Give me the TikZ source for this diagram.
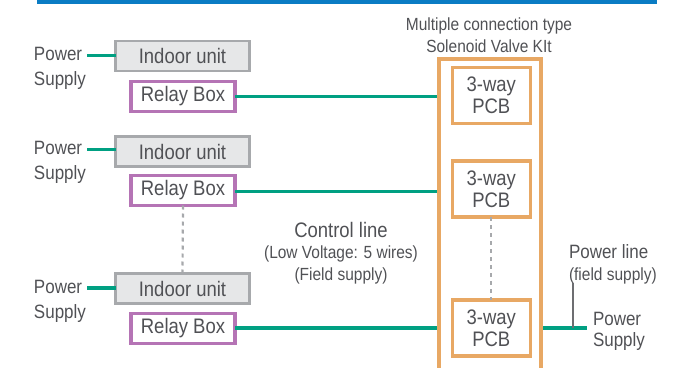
\documentclass[tikz,border=0pt]{standalone}
\usepackage{fontspec}
\setmainfont[FakeStretch=0.88]{Liberation Sans}
\definecolor{txt}{HTML}{505155}
\definecolor{barblue}{HTML}{0A7CC4}
\definecolor{wire}{HTML}{00A082}
\definecolor{relay}{HTML}{B574B5}
\definecolor{kit}{HTML}{E8A864}
\definecolor{unitfill}{HTML}{E6E7E8}
\definecolor{unitdraw}{HTML}{A7A9AC}
\definecolor{lead}{HTML}{6D6E71}
\tikzset{
  every node/.style={text=txt, inner sep=0pt, outer sep=0pt},
  unitbox/.style={draw=unitdraw, fill=unitfill, line width=2.8pt, minimum width=134pt, minimum height=30pt, font=\fontsize{21}{22}\selectfont},
  relaybox/.style={draw=relay, fill=white, line width=3.2pt, minimum width=104pt, minimum height=30pt, font=\fontsize{21}{22}\selectfont},
  pcbbox/.style={draw=kit, fill=white, line width=3.4pt, minimum width=78pt, minimum height=56pt, align=center, font=\fontsize{21}{22}\selectfont},
  wireline/.style={draw=wire, line width=3.2pt},
  dots/.style={draw=unitdraw, line width=2.2pt, dash pattern=on 4pt off 4pt},
  pslabel/.style={align=left, font=\fontsize{19.3}{25}\selectfont},
  smalltxt/.style={align=center, font=\fontsize{17.6}{22}\selectfont},
}
\begin{document}
\begin{tikzpicture}[x=1pt, y=-1pt]
\useasboundingbox (0,0) rectangle (683,367);
% top bar
\fill[barblue] (37,0) rectangle (657,4);
% kit outer box
\begin{scope}
\clip (0,0) rectangle (683,367);
\draw[kit, line width=4.2pt] (439,380) -- (439,59) -- (541,59) -- (541,380);
\end{scope}
\coordinate (kitw1) at (437,96.5);
\coordinate (kitw2) at (437,191.5);
\coordinate (kitw3) at (437,328);
\coordinate (kite3) at (543,328);
\node[smalltxt] (title) at (489,35) {Multiple connection type\\Solenoid Valve KIt};
% PCBs
\node[pcbbox] (pcb1) at (491.3,95.5) {3-way\\PCB};
\node[pcbbox] (pcb2) at (491.3,189) {3-way\\PCB};
\node[pcbbox] (pcb3) at (491.3,328) {3-way\\PCB};
\draw[dots] (pcb2.south) -- (pcb3.north);
% indoor units and relay boxes
\node[unitbox] (in1) at (182.5,56) {Indoor unit};
\node[relaybox] (rb1) at (183,96.5) {Relay Box};
\node[unitbox] (in2) at (182.5,151.5) {Indoor unit};
\node[relaybox] (rb2) at (183,190.5) {Relay Box};
\node[unitbox] (in3) at (182.5,288.5) {Indoor unit};
\node[relaybox] (rb3) at (183,328.5) {Relay Box};
\draw[dots] (rb2.south) -- (in3.north);
% power supply labels
\node[pslabel, anchor=north west] (ps1) at (34,47) {Power\\Supply};
\node[pslabel, anchor=north west] (ps2) at (34,141) {Power\\Supply};
\node[pslabel, anchor=north west] (ps3) at (34,280) {Power\\Supply};
\coordinate (pe1) at (87,55.5);
\coordinate (pe2) at (87,149.5);
\coordinate (pe3) at (87,288);
\draw[wireline] (pe1) -- (in1.west |- pe1);
\draw[wireline] (pe2) -- (in2.west |- pe2);
\draw[wireline] (pe3) -- (in3.west |- pe3);
% control lines
\draw[wireline] (rb1.east |- kitw1) -- (kitw1);
\draw[wireline] (rb2.east |- kitw2) -- (kitw2);
\draw[wireline] (rb3.east |- kitw3) -- (kitw3);
\node[align=center, font=\fontsize{21}{23}\selectfont] (ctl) at (341,230) {Control line};
\node[smalltxt] (ctlsub) at (341,265) {(Low Voltage: 5 wires)\\(Field supply)};
% right power line
\coordinate (pse) at (587,328);
\draw[wireline] (kite3) -- (pse);
\node[align=left, anchor=north west, font=\fontsize{19.3}{22}\selectfont] (pl) at (569,245) {Power line};
\node[align=left, anchor=north west, font=\fontsize{17.6}{22}\selectfont] (plsub) at (569,268) {(field supply)};
\coordinate (ltop) at (573,283);
\coordinate (lbot) at (573,328);
\draw[lead, line width=1.5pt] (ltop) -- (lbot);
\node[pslabel, anchor=north west, font=\fontsize{19.3}{21}\selectfont] (ps4) at (593,312) {Power\\Supply};
\end{tikzpicture}
\end{document}
